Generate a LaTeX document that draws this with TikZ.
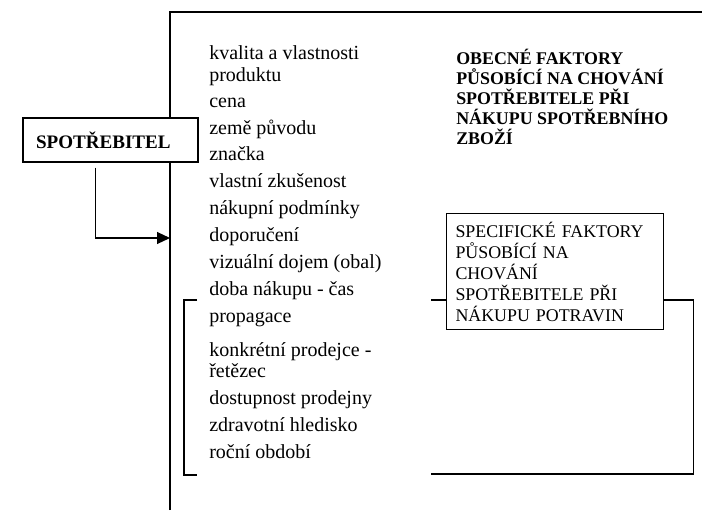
\documentclass[tikz,border=0pt]{standalone}
\usepackage{fontspec}
\setmainfont{Liberation Serif}
\usepackage{tikz}
\usetikzlibrary{calc,arrows.meta}
\tikzset{
  line/.style={draw=black, line width=0.8pt},
  spotbox/.style={draw, fill=white, line width=0.8pt, inner xsep=9.75pt, inner ysep=0pt,
    text width=111.75pt, minimum height=33pt, align=left,
    font=\fontsize{14.3}{17}\selectfont\bfseries},
  item/.style={anchor=base west, inner sep=0pt, font=\fontsize{15}{17}\selectfont},
  head/.style={anchor=north west, inner sep=0pt, align=left,
    font=\fontsize{13.4}{15}\selectfont\bfseries},
  specbox/.style={draw, line width=0.8pt, anchor=north west, inner xsep=6.75pt,
    inner ysep=0pt, text width=149.25pt, minimum height=87pt, align=left,
    font=\fontsize{13.4}{15.75}\selectfont}
}
\begin{document}
\begin{tikzpicture}[x=0.75pt, y=-0.75pt]
  \useasboundingbox (0,0) rectangle (702,510);

  \coordinate (fb) at (170,510);
  \coordinate (ft) at (170,12);
  \coordinate (fr) at (702,12);
  \draw[line] (fb) -- (ft) -- (fr);

  \node[spotbox] (spot) at (110.5,140) {SPOTŘEBITEL};
  \coordinate (down) at ($(spot.south west)+(73,5)$);
  \coordinate (hit) at (170,238);
  \draw[line, -{Triangle[length=9.75pt,width=9pt]}] (down) |- (hit);

  % factors
  \foreach \y/\t [count=\i] in {60/{kvalita a vlastnosti}, 81/{produktu}, 107/{cena},
      134/{země původu}, 160/{značka}, 187/{vlastní zkušenost}, 214/{nákupní podmínky},
      241/{doporučení}, 268/{vizuální dojem (obal)}, 295/{doba nákupu - čas},
      322/{propagace}, 356/{konkrétní prodejce -}, 377/{řetězec},
      404/{dostupnost prodejny}, 431/{zdravotní hledisko}, 458/{roční období}}
    \node[item] (it\i) at (209,\y) {\t};

  \node[head] (obecne) at (456,49) {OBECNÉ FAKTORY\\PŮSOBÍCÍ NA CHOVÁNÍ\\SPOTŘEBITELE PŘI\\NÁKUPU SPOTŘEBNÍHO\\ZBOŽÍ};

  \node[specbox] (spec) at (446,213) {SPECIFICKÉ FAKTORY\\PŮSOBÍCÍ NA\\CHOVÁNÍ\\SPOTŘEBITELE PŘI\\NÁKUPU POTRAVIN};

  \coordinate (lb1) at (197,300);
  \coordinate (lb2) at (197,475);
  \draw[line] (lb1) -- ++(-13,0) |- (lb2);

  \coordinate (rb1) at (431,300);
  \coordinate (rb2) at (431,474);
  \draw[line] (rb1) -- (rb1 -| spec.west);
  \draw[line] (spec.east |- rb1) -- ++(29,0) |- (rb2);
\end{tikzpicture}
\end{document}
